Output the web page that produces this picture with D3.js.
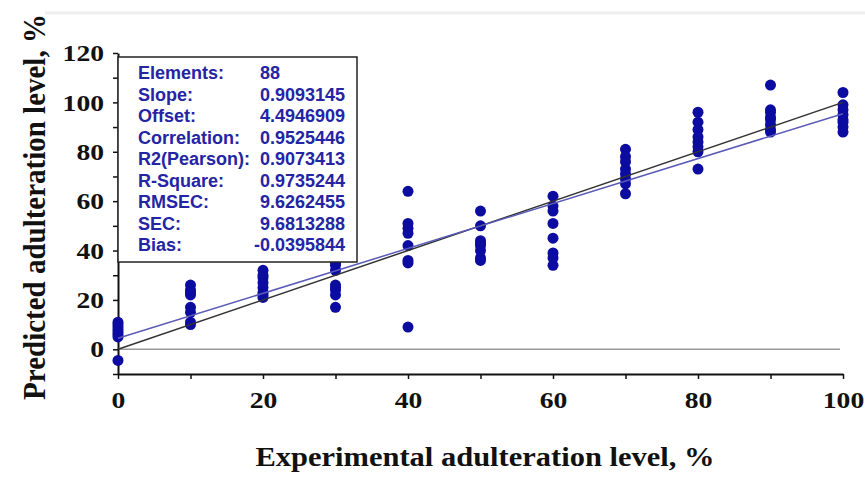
<!DOCTYPE html>
<html>
<head>
<meta charset="utf-8">
<script src="https://cdn.jsdelivr.net/npm/d3@7"></script>
<style>
  body { margin: 0; background: #fff; }
  .tick text { font-family: "Liberation Serif", "Times New Roman", serif; font-weight: bold; fill: #111; }
</style>
</head>
<body>
<script>
// reference levels (experimental %) and the predicted values
var levels = [0, 10, 20, 30, 40, 50, 60, 70, 80, 90, 100];
var predicted = [
  [11, 10, 9, 8, 7, 6, 5, -4.5],
  [26, 24, 23, 22, 17, 15, 11, 10],
  [32, 30, 29, 27, 25, 23, 22, 21],
  [35, 34, 32, 26, 25, 24, 22, 17],
  [64, 51, 49, 47, 42, 36, 35, 9],
  [56, 50, 44, 43, 42, 40, 37, 36],
  [62, 58, 56, 51, 45, 39, 37, 34],
  [81, 78, 76, 73, 71, 69, 67, 63],
  [96, 92, 89, 86, 84, 82, 80, 73],
  [107, 97, 96, 94, 93, 91, 89, 88],
  [104, 99, 97, 95, 93, 92, 90, 88]
];

// regression stats shown in the box
var statLabels = ["Elements:", "Slope:", "Offset:", "Correlation:", "R2(Pearson):", "R-Square:", "RMSEC:", "SEC:", "Bias:"];
var statValues = ["88", "0.9093145", "4.4946909", "0.9525446", "0.9073413", "0.9735244", "9.6262455", "9.6813288", "-0.0395844"];
var slope = 0.9093145;
var offset = 4.4946909;

var xTicks = [0, 10, 20, 30, 40, 50, 60, 70, 80, 90, 100];
var yTicks = [-10, 0, 10, 20, 30, 40, 50, 60, 70, 80, 90, 100, 110, 120];

var w = 865;
var h = 477;
var stretch = 1.15; // the scanned figure is a bit wide, tick labels look stretched

var svg = d3.select("body").append("svg").attr("width", w).attr("height", h);

var x = d3.scaleLinear().domain([0, 100]).range([118, 843]);
var y = d3.scaleLinear().domain([-10, 120]).range([374, 53]);

// faint scan line at the very top
svg.append("line")
  .attr("x1", 45).attr("x2", w).attr("y1", 13).attr("y2", 13)
  .attr("stroke", "#eee").attr("stroke-width", 3);

// zero line
svg.append("line")
  .attr("x1", x(0)).attr("x2", x(100) - 3)
  .attr("y1", y(0)).attr("y2", y(0))
  .attr("stroke", "#9a9a9a").attr("stroke-width", 1.5);

// axes
var yAxis = svg.append("g")
  .attr("transform", "translate(" + x(0) + ",0)")
  .call(d3.axisLeft(y)
    .tickValues(yTicks)
    .tickSize(5)
    .tickSizeOuter(0)
    .tickFormat(function(d) { return (d >= 0 && d % 20 == 0) ? d : ""; }));

yAxis.selectAll(".tick text")
  .attr("x", -14 / stretch)
  .attr("transform", "scale(" + stretch + ",1)");

var xAxis = svg.append("g")
  .attr("transform", "translate(0," + y(-10) + ")")
  .call(d3.axisBottom(x)
    .tickValues(xTicks)
    .tickSize(5)
    .tickSizeOuter(0)
    .tickPadding(12)
    .tickFormat(function(d) { return d % 20 == 0 ? d : ""; }));

xAxis.selectAll(".tick text")
  .attr("transform", "scale(" + stretch + ",1)");

svg.selectAll(".domain").attr("stroke", "#111").attr("stroke-width", 2);
svg.selectAll(".tick line").attr("stroke", "#111").attr("stroke-width", 1.5);
svg.selectAll(".tick text").style("font-size", "24px");

// points
var pts = [];
levels.forEach(function(l, i) {
  predicted[i].forEach(function(v) { pts.push({ x: l, y: v }); });
});

svg.append("g").selectAll("circle")
  .data(pts)
  .enter().append("circle")
  .attr("cx", function(d) { return x(d.x); })
  .attr("cy", function(d) { return y(d.y); })
  .attr("r", 5.5)
  .attr("fill", "#0c0ca0");

// target line and regression line
svg.append("line")
  .attr("x1", x(0)).attr("y1", y(0))
  .attr("x2", x(100)).attr("y2", y(100))
  .attr("stroke", "#333").attr("stroke-width", 1.5);

svg.append("line")
  .attr("x1", x(0)).attr("y1", y(offset))
  .attr("x2", x(100)).attr("y2", y(offset + slope * 100))
  .attr("stroke", "#5a5ab8").attr("stroke-width", 1.5);

// stats box
var box = svg.append("g");
box.append("rect")
  .attr("x", 118).attr("y", 57)
  .attr("width", 239).attr("height", 205)
  .attr("fill", "#fff")
  .attr("stroke", "#222").attr("stroke-width", 1.5);

box.selectAll(".lab")
  .data(statLabels)
  .enter().append("text")
  .attr("class", "lab")
  .attr("x", 138)
  .attr("y", function(d, i) { return 79 + i * 21.5; })
  .style("font-family", "Liberation Sans, Arial, sans-serif")
  .style("font-weight", "bold")
  .style("font-size", "18px")
  .style("fill", "#2424a4")
  .text(function(d) { return d; });

box.selectAll(".val")
  .data(statValues)
  .enter().append("text")
  .attr("class", "val")
  .attr("x", 260)
  .attr("dx", function(d) { return d.charAt(0) == "-" ? -6 : 0; })
  .attr("y", function(d, i) { return 79 + i * 21.5; })
  .style("font-family", "Liberation Sans, Arial, sans-serif")
  .style("font-weight", "bold")
  .style("font-size", "18px")
  .style("fill", "#2424a4")
  .text(function(d) { return d; });

// axis titles
svg.append("text")
  .attr("transform", "translate(485,466) scale(1.09,1)")
  .attr("text-anchor", "middle")
  .style("font-family", "Liberation Serif, Times New Roman, serif")
  .style("font-weight", "bold")
  .style("font-size", "28px")
  .style("fill", "#111")
  .text("Experimental adulteration level, %");

svg.append("text")
  .attr("transform", "translate(45,207) rotate(-90) scale(1,1.12)")
  .attr("text-anchor", "middle")
  .style("font-family", "Liberation Serif, Times New Roman, serif")
  .style("font-weight", "bold")
  .style("font-size", "29px")
  .style("fill", "#111")
  .text("Predicted adulteration level, %");
</script>
</body>
</html>
